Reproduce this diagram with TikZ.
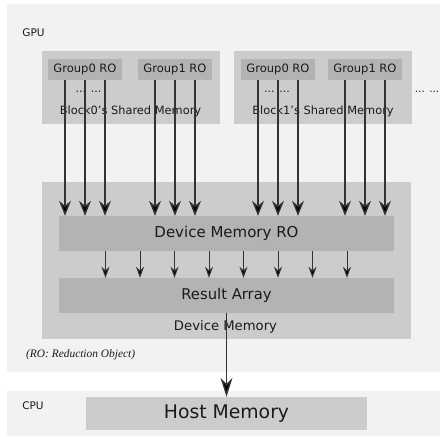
\documentclass[tikz,border=0pt]{standalone}
\usepackage{fontspec}
\setmainfont{DejaVu Sans}
\newfontfamily\notefont{Liberation Serif}
\usetikzlibrary{arrows.meta}
\definecolor{bgpale}{HTML}{F2F2F2}
\definecolor{boxlight}{HTML}{CCCCCC}
\definecolor{boxdark}{HTML}{B3B3B3}
\definecolor{inkgray}{HTML}{1A1A1A}
\begin{document}
\begin{tikzpicture}[x=1pt,y=-1pt,
  area/.style={rectangle,fill=bgpale,inner sep=0pt},
  mem box/.style={rectangle,fill=boxlight,inner sep=0pt},
  ro box/.style={rectangle,fill=boxdark,inner sep=0pt,text=inkgray},
  label/.style={text=inkgray,inner sep=0pt},
  feed/.style={draw=black!80,line width=1.3pt,-{Stealth[length=15pt,width=12pt,inset=5pt,fill=black]}},
  merge/.style={draw=black!80,line width=1pt,-{Stealth[length=11pt,width=8pt,inset=3.5pt,fill=black]}},
  copy/.style={draw=black!80,line width=1.4pt,-{Stealth[length=19pt,width=12pt,inset=6pt,fill=black]}}]

  \useasboundingbox (0,0) rectangle (440,437);

  % GPU and CPU areas
  \node[area,minimum width=436pt,minimum height=368pt] (gpu) at (225,188) {};
  \node[area,minimum width=436pt,minimum height=45pt] (cpu) at (225,413.5) {};
  \node[label,font=\fontsize{10.5}{12}\selectfont] (gpulbl) at (33.5,33) {GPU};
  \node[label,font=\fontsize{10.5}{12}\selectfont] (cpulbl) at (33,406) {CPU};

  % shared memory of the blocks
  \node[mem box,minimum width=178pt,minimum height=73pt] (blk0) at (131,87.5) {};
  \node[mem box,minimum width=178pt,minimum height=73pt] (blk1) at (323,87.5) {};
  \node[ro box,minimum width=74pt,minimum height=21pt,font=\fontsize{11.5}{13}\selectfont] (g00) at (85,69.5) {Group0 RO};
  \node[ro box,minimum width=74pt,minimum height=21pt,font=\fontsize{11.5}{13}\selectfont] (g01) at (175,69.5) {Group1 RO};
  \node[ro box,minimum width=74pt,minimum height=21pt,font=\fontsize{11.5}{13}\selectfont] (g10) at (278,69.5) {Group0 RO};
  \node[ro box,minimum width=74pt,minimum height=21pt,font=\fontsize{11.5}{13}\selectfont] (g11) at (365,69.5) {Group1 RO};
  \node[label,font=\fontsize{11}{13}\selectfont] (dots0) at (88.5,92) {... ...};
  \node[label,font=\fontsize{11}{13}\selectfont] (dots1) at (277,92) {... ...};
  \node[label,font=\fontsize{10.5}{13}\selectfont,anchor=east] (dots2) at (439.5,92) {... ...};
  \node[label,font=\fontsize{11.4}{13}\selectfont] (blk0lbl) at (130.5,111) {Block0{\char39}s Shared Memory};
  \node[label,font=\fontsize{11.4}{13}\selectfont] (blk1lbl) at (323,111) {Block1{\char39}s Shared Memory};

  % device memory
  \node[mem box,minimum width=369pt,minimum height=157pt] (dev) at (226.5,260.5) {};
  \node[ro box,minimum width=335pt,minimum height=35pt,font=\fontsize{15}{17}\selectfont] (dmro) at (226.5,233.5) {Device Memory RO};
  \node[ro box,minimum width=335pt,minimum height=35pt,font=\fontsize{14.8}{17}\selectfont] (res) at (226.5,295.5) {Result Array};
  \node[label,font=\fontsize{13.2}{15}\selectfont] (devlbl) at (225.5,327) {Device Memory};
  \node[label,font=\notefont\itshape\fontsize{11.4}{13}\selectfont,anchor=west] (note) at (26,355) {(RO: Reduction Object)};

  % host memory
  \node[mem box,minimum width=281pt,minimum height=33pt,text=inkgray,font=\fontsize{18.8}{21}\selectfont] (host) at (226.5,413.5) {Host Memory};

  % connectors
  \foreach \g in {g00,g01,g10,g11}
    \foreach \dx in {-20,0,20}
      \draw[feed] ([xshift=\dx pt]\g.south) -- ([xshift=\dx pt]\g.south |- dmro.north);
  \foreach \i in {0,...,7}
    \draw[merge] ([xshift=-121pt+\i*34.5pt]dmro.south) -- ([xshift=-121pt+\i*34.5pt]res.north);
  \draw[copy] (res.south) -- (host.north);
\end{tikzpicture}
\end{document}
